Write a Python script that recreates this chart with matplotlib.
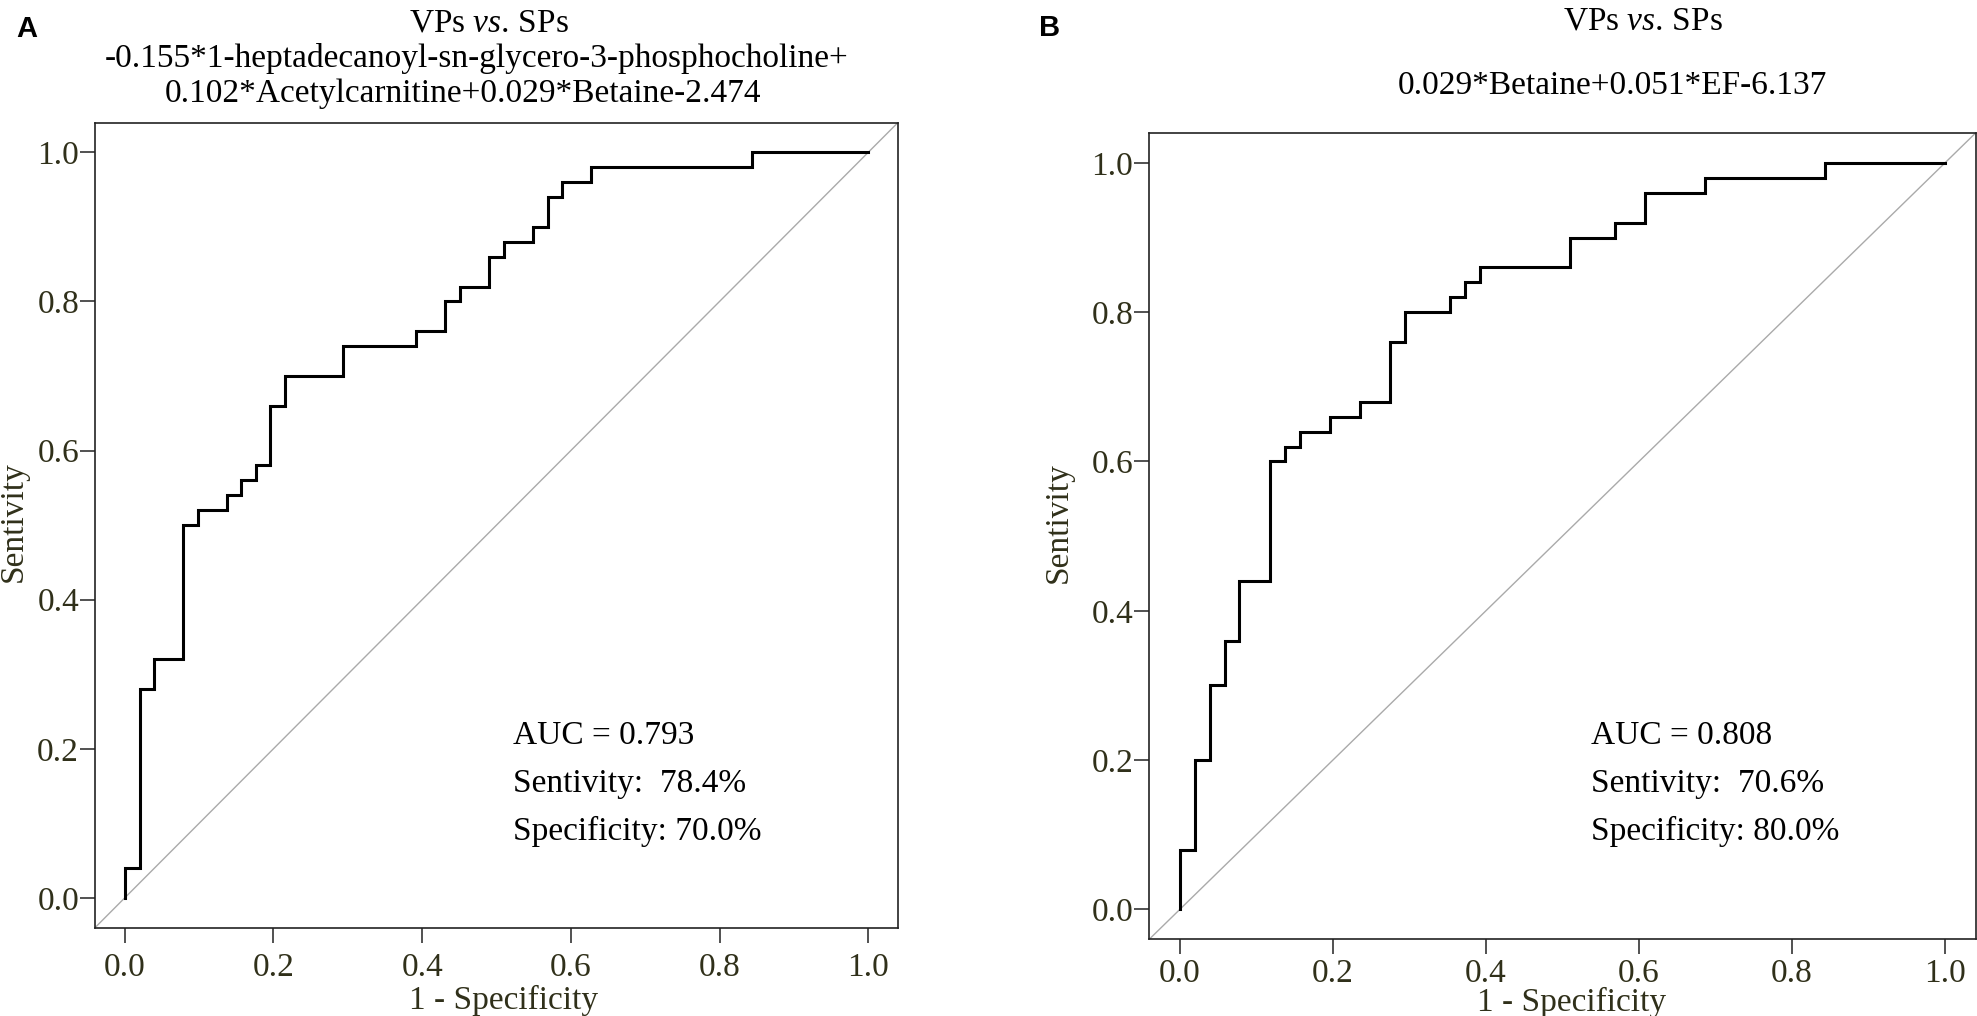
import matplotlib
matplotlib.use("Agg")
import matplotlib.pyplot as plt

plt.rcParams['font.family'] = ['Liberation Serif', 'DejaVu Serif']
plt.rcParams['mathtext.fontset'] = 'custom'
plt.rcParams['mathtext.rm'] = 'Liberation Serif'
plt.rcParams['mathtext.it'] = 'Liberation Serif:italic'

# ---------------- data ----------------
fpr_a = [0, 0, 0.020, 0.020, 0.039, 0.039, 0.078, 0.078, 0.098, 0.098, 0.137, 0.137,
         0.157, 0.157, 0.176, 0.176, 0.196, 0.196, 0.216, 0.216, 0.294, 0.294, 0.392, 0.392,
         0.431, 0.431, 0.451, 0.451, 0.490, 0.490, 0.510, 0.510, 0.549, 0.549, 0.569, 0.569,
         0.588, 0.588, 0.627, 0.627, 0.843, 0.843, 1.0]
tpr_a = [0, 0.04, 0.04, 0.28, 0.28, 0.32, 0.32, 0.50, 0.50, 0.52, 0.52, 0.54, 0.54, 0.56,
         0.56, 0.58, 0.58, 0.66, 0.66, 0.70, 0.70, 0.74, 0.74, 0.76, 0.76, 0.80, 0.80, 0.82,
         0.82, 0.86, 0.86, 0.88, 0.88, 0.90, 0.90, 0.94, 0.94, 0.96, 0.96, 0.98, 0.98, 1.0, 1.0]

fpr_b = [0, 0, 0.020, 0.020, 0.039, 0.039, 0.059, 0.059, 0.078, 0.078, 0.118, 0.118,
         0.137, 0.137, 0.157, 0.157, 0.196, 0.196, 0.235, 0.235, 0.275, 0.275, 0.294, 0.294,
         0.353, 0.353, 0.373, 0.373, 0.392, 0.392, 0.510, 0.510, 0.569, 0.569, 0.608, 0.608,
         0.686, 0.686, 0.843, 0.843, 1.0]
tpr_b = [0, 0.08, 0.08, 0.20, 0.20, 0.30, 0.30, 0.36, 0.36, 0.44, 0.44, 0.60, 0.60, 0.62,
         0.62, 0.64, 0.64, 0.66, 0.66, 0.68, 0.68, 0.76, 0.76, 0.80, 0.80, 0.82, 0.82, 0.84,
         0.84, 0.86, 0.86, 0.90, 0.90, 0.92, 0.92, 0.96, 0.96, 0.98, 0.98, 1.0, 1.0]

ticks = [0.0, 0.2, 0.4, 0.6, 0.8, 1.0]
tick_labels = ["0.0", "0.2", "0.4", "0.6", "0.8", "1.0"]

panel_letters = ["A", "B"]
title_a = ["VPs $\\mathit{vs.}\\,$SPs",
           "-0.155*1-heptadecanoyl-sn-glycero-3-phosphocholine+",
           "0.102*Acetylcarnitine+0.029*Betaine-2.474"]
title_b = ["VPs $\\mathit{vs.}\\,$SPs",
           "0.029*Betaine+0.051*EF-6.137"]
stats_a = ["AUC = 0.793", "Sentivity:  78.4%", "Specificity: 70.0%"]
stats_b = ["AUC = 0.808", "Sentivity:  70.6%", "Specificity: 80.0%"]
xlabel = "1 - Specificity"
ylabel = "Sentivity"

# ---------------- layout ----------------
W, H = 1977, 1016
fig = plt.figure(figsize=(W / 100, H / 100), dpi=100)
fig.patch.set_facecolor('white')

def fx(px):
    return px / W

def fy(py):
    return 1 - py / H

olive = '#30301a'
FS = 24

def make_axes(l, r, t, b, xpad):
    ax = fig.add_axes([fx(l), fy(b), fx(r - l), (b - t) / H])
    ax.set_xlim(-0.04, 1.04)
    ax.set_ylim(-0.04, 1.04)
    ax.set_xticks(ticks)
    ax.set_xticklabels(tick_labels)
    ax.set_yticks(ticks)
    ax.set_yticklabels(tick_labels)
    ax.tick_params(axis='both', direction='out', length=10.5, width=1.1,
                   colors='#222222', labelcolor=olive, labelsize=FS)
    ax.tick_params(axis='x', pad=xpad)
    ax.tick_params(axis='y', pad=1)
    for s in ax.spines.values():
        s.set_linewidth(1.2)
        s.set_color('#222222')
    ax.axline((0, 0), (1, 1), color='#aaaaaa', lw=1.0, zorder=1)
    return ax

axA = make_axes(95, 898, 122.5, 927.7, 7)
axB = make_axes(1149.2, 1975.6, 133, 939.3, 3.5)

axA.plot(fpr_a, tpr_a, color='black', lw=2.2, solid_joinstyle='miter', zorder=3)
axB.plot(fpr_b, tpr_b, color='black', lw=2.2, solid_joinstyle='miter', zorder=3)

# titles
for txt, cx, by in zip(title_a, [489, 476.5, 463.5], [31, 66.7, 101.7]):
    fig.text(fx(cx), fy(by), txt, ha='center', va='baseline', fontsize=FS, color='black')
for txt, cx, by in zip(title_b, [1643, 1612], [30, 94]):
    fig.text(fx(cx), fy(by), txt, ha='center', va='baseline', fontsize=FS, color='black')

# panel letters
fig.text(fx(16), fy(37), panel_letters[0], ha='left', va='baseline', fontsize=21,
         fontweight='bold', family=['Liberation Sans', 'DejaVu Sans'])
fig.text(fx(1039), fy(36), panel_letters[1], ha='left', va='baseline', fontsize=21,
         fontweight='bold', family=['Liberation Sans', 'DejaVu Sans'])

# stats text
for txt, by in zip(stats_a, [744, 792, 840]):
    fig.text(fx(513), fy(by), txt, ha='left', va='baseline', fontsize=FS, color='black')
for txt, by in zip(stats_b, [744, 792, 840]):
    fig.text(fx(1590.7), fy(by), txt, ha='left', va='baseline', fontsize=FS, color='black')

# axis labels
fig.text(fx(503.5), fy(1009), xlabel, ha='center', va='baseline', fontsize=FS, color=olive)
fig.text(fx(1572), fy(1011.5), xlabel, ha='center', va='baseline', fontsize=FS, color=olive)
fig.text(fx(13.5), fy(522), ylabel, ha='center', va='center', rotation=90, fontsize=FS, color=olive)
fig.text(fx(1059), fy(523), ylabel, ha='center', va='center', rotation=90, fontsize=FS, color=olive)

fig.savefig('out.png', dpi=100, facecolor='white')
